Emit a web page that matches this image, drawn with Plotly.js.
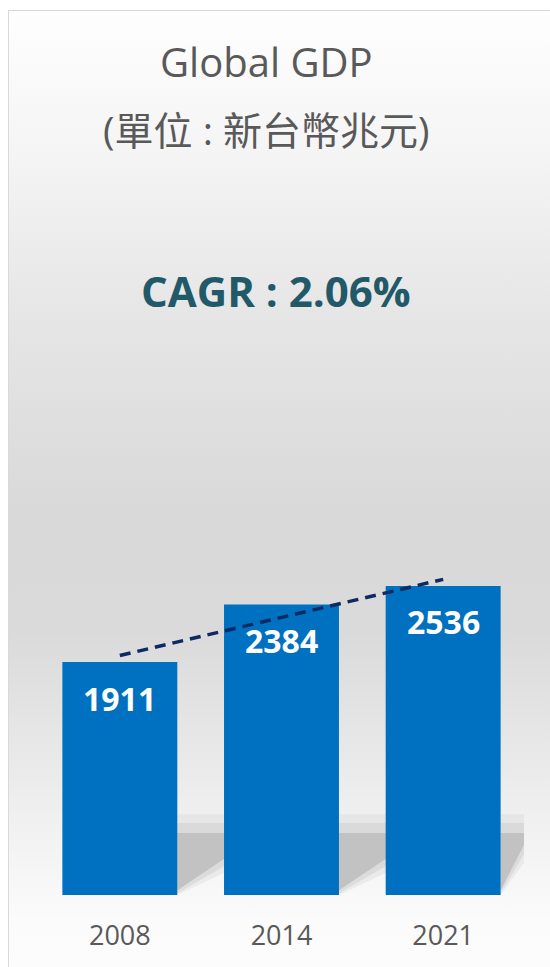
<!DOCTYPE html>
<html>
<head>
<meta charset="utf-8">
<script src="https://cdn.plot.ly/plotly-3.0.1.min.js"></script>
<style>
  html, body { margin: 0; padding: 0; width: 550px; height: 967px; overflow: hidden; background: #ffffff; }
  #frame {
    position: absolute; left: 8px; top: 10px; width: 620px; height: 1000px;
    border: 1px solid #d9d9d9; box-sizing: border-box;
    background: linear-gradient(to bottom, #fefefe 0px, #f4f4f4 150px, #e7e7e7 290px, #d9d9d9 500px, #dadada 620px, #eeeeee 790px, #fbfbfb 910px, #fdfdfd 1000px);
  }
  #chart { position: absolute; left: 0; top: 0; width: 550px; height: 967px; }
</style>
</head>
<body>
<div id="frame"></div>
<div id="chart"></div>
<script>
// Data
const years = ['2008', '2014', '2021'];
const gdp = [1911, 2384, 2536];
const trendYears = ['2008', '2021'];
const trendValues = [1965, 2590];
const titleText = 'Global GDP';
const subtitleText = '(單位 : 新台幣兆元)';
const cagrText = 'CAGR : 2.06%';

const fontFamily = '"Open Sans", "Noto Sans CJK TC", sans-serif';

const bars = {
  type: 'bar',
  x: years,
  y: gdp,
  marker: { color: '#0070C0', line: { width: 0 } },
  hoverinfo: 'none',
  showlegend: false
};

const trend = {
  type: 'scatter',
  mode: 'lines',
  x: trendYears,
  y: trendValues,
  line: { color: '#0E2A63', width: 3.5, dash: '11px,7px' },
  hoverinfo: 'none',
  showlegend: false
};

// soft shadows behind each bar (decoration), in paper units
const bargap = 0.289;
const half = (1 - bargap) / 2;
const n = years.length;
const px = v => v / n;
const shapes = [];
years.forEach((y, i) => {
  const r = px(i + 0.5 + half);
  const w = Math.min(px(0.42), 1 - r);
  shapes.push({
    type: 'path', layer: 'below', xref: 'paper', yref: 'paper',
    path: `M ${r} 0 L ${r} 0.138 L ${r + w} 0.138 L ${r + w} 0.055 Z`,
    fillcolor: 'rgba(200,200,200,0.25)', line: { width: 0 }
  });
  shapes.push({
    type: 'path', layer: 'below', xref: 'paper', yref: 'paper',
    path: `M ${r} 0.003 L ${r} 0.123 L ${r + w} 0.123 L ${r + w} 0.07 Z`,
    fillcolor: 'rgba(195,195,195,0.35)', line: { width: 0 }
  });
  shapes.push({
    type: 'path', layer: 'below', xref: 'paper', yref: 'paper',
    path: `M ${r} 0.008 L ${r} 0.106 L ${r + w} 0.106 L ${r + w} 0.086 Z`,
    fillcolor: 'rgba(188,188,188,0.8)', line: { width: 0 }
  });
});

const annotations = [
  { text: titleText, xref: 'paper', yref: 'paper', x: 0.470, y: 1.424, xanchor: 'center', yanchor: 'middle',
    showarrow: false, font: { family: fontFamily, size: 40, color: '#595959' } },
  { text: subtitleText, xref: 'paper', yref: 'paper', x: 0.470, y: 1.309, xanchor: 'center', yanchor: 'middle',
    showarrow: false, font: { family: fontFamily, size: 39, color: '#595959' } },
  { text: '<b>' + cagrText + '</b>', xref: 'paper', yref: 'paper', x: 0.488, y: 1.034, xanchor: 'center', yanchor: 'middle',
    showarrow: false, font: { family: fontFamily, size: 42, color: '#215968' } }
];
years.forEach((yr, i) => {
  annotations.push({
    text: '<b>' + gdp[i] + '</b>', x: i, y: gdp[i], xref: 'x', yref: 'y',
    xanchor: 'center', yanchor: 'middle', yshift: -36, showarrow: false,
    font: { family: fontFamily, size: 32, color: '#ffffff' }
  });
});

const layout = {
  width: 550, height: 967,
  margin: { l: 39, r: 26, t: 310, b: 72, pad: 0 },
  paper_bgcolor: 'rgba(0,0,0,0)',
  plot_bgcolor: 'rgba(0,0,0,0)',
  bargap: bargap,
  xaxis: {
    type: 'category', categoryarray: years, categoryorder: 'array', range: [-0.5, n - 0.5],
    showgrid: false, zeroline: false, showline: false, ticks: '',
    tickfont: { family: fontFamily, size: 27, color: '#595959' },
    ticklabelstandoff: 22, fixedrange: true
  },
  yaxis: {
    range: [0, 4800], visible: false, showgrid: false, zeroline: false, fixedrange: true
  },
  shapes: shapes,
  annotations: annotations,
  showlegend: false
};

Plotly.newPlot('chart', [bars, trend], layout, { staticPlot: true, displayModeBar: false });
</script>
</body>
</html>
